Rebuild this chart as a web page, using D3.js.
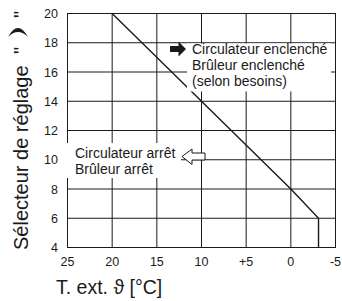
<!DOCTYPE html>
<html>
<head>
<meta charset="utf-8">
<script src="https://cdn.jsdelivr.net/npm/d3@7"></script>
<style>
  html, body { margin: 0; padding: 0; background: #fff; }
  svg { display: block; font-family: "Liberation Sans", Arial, Helvetica, sans-serif; }
</style>
</head>
<body>
<svg id="chart" width="342" height="301"></svg>
<script>
// ---- data ----
const xTicks = [25, 20, 15, 10, 5, 0, -5];
const xTickLabels = ["25", "20", "15", "10", "+5", "0", "-5"];
const yTicks = [4, 6, 8, 10, 12, 14, 16, 18, 20];
const curveTemp = [20, 10, 0, -3.1, -3.1];
const curveSetting = [20, 14, 8, 6, 4];
const xTitle = "T. ext. \u03D1 [°C]";
const yTitle = "Sélecteur de réglage";
const noteOn = ["Circulateur enclenché", "Brûleur enclenché", "(selon besoins)"];
const noteOff = ["Circulateur arrêt", "Brûleur arrêt"];

// ---- layout ----
const svg = d3.select("#chart");
const L = 67.5, R = 335.5, T = 13.5, B = 247.5;
const x = d3.scaleLinear().domain([25, -5]).range([L, R]);
const y = d3.scaleLinear().domain([4, 20]).range([B, T]);
const ink = "#1a1a1a";

// grid
const g = svg.append("g");
g.selectAll("line.v").data(xTicks.slice(1, -1)).join("line")
  .attr("x1", d => x(d)).attr("x2", d => x(d))
  .attr("y1", T).attr("y2", B)
  .attr("stroke", ink).attr("stroke-width", 1);
g.selectAll("line.h").data(yTicks.slice(1, -1)).join("line")
  .attr("x1", L).attr("x2", R)
  .attr("y1", d => y(d)).attr("y2", d => y(d))
  .attr("stroke", ink).attr("stroke-width", 1);
g.append("rect").attr("x", L).attr("y", T).attr("width", R - L).attr("height", B - T)
  .attr("fill", "none").attr("stroke", ink).attr("stroke-width", 1);

// curve
const pts = curveTemp.map((t, i) => [t, curveSetting[i]]);
svg.append("path")
  .datum(pts)
  .attr("d", d3.line().x(d => x(d[0])).y(d => y(d[1])))
  .attr("fill", "none").attr("stroke", ink).attr("stroke-width", 1.4);

// white boxes behind notes
svg.append("rect").attr("x", 187).attr("y", 43.5).attr("width", 144).attr("height", 48).attr("fill", "#fff");
svg.append("rect").attr("x", 66).attr("y", 143).attr("width", 115).attr("height", 35).attr("fill", "#fff");

// filled arrow (right)
svg.append("path")
  .attr("d", "M170,46 L178.5,46 L178.5,41.5 L186,49 L178.5,56.5 L178.5,52 L170,52 Z")
  .attr("fill", ink);
// hollow arrow (left)
svg.append("path")
  .attr("d", "M182,156.5 L192,149 L192,153 L205,153 L205,160 L192,160 L192,164.5 Z")
  .attr("fill", "#fff").attr("stroke", ink).attr("stroke-width", 1);

// notes (one text element per line)
const fs = 14, lh = 15.8;
svg.selectAll("text.on").data(noteOn).join("text")
  .attr("x", 192).attr("y", (d, i) => 54 + i * lh)
  .attr("font-size", fs).attr("fill", ink).text(d => d);
svg.selectAll("text.off").data(noteOff).join("text")
  .attr("x", 75).attr("y", (d, i) => 158 + i * lh)
  .attr("font-size", fs).attr("fill", ink).text(d => d);

// y tick labels
svg.selectAll("text.yt").data(yTicks).join("text")
  .attr("x", 58).attr("y", d => y(d)).attr("dy", "0.36em")
  .attr("text-anchor", "end").attr("font-size", 12.5).attr("fill", ink)
  .text(d => d);

// x tick labels
svg.selectAll("text.xt").data(xTicks).join("text")
  .attr("x", d => x(d)).attr("y", 266)
  .attr("text-anchor", "middle").attr("font-size", 12.5).attr("fill", ink)
  .text((d, i) => xTickLabels[i]);

// x title
svg.append("text").attr("x", 56).attr("y", 294).attr("font-size", 19.5).attr("fill", ink).text(xTitle);

// y title (rotated)
svg.append("text").attr("transform", "translate(28,250) rotate(-90)")
  .attr("font-size", 20).attr("fill", ink).text(yTitle);
svg.append("text").attr("transform", "translate(28,54) rotate(-90)")
  .attr("font-size", 20).attr("fill", ink).text('"');
svg.append("text").attr("transform", "translate(28,18) rotate(-90)")
  .attr("font-size", 20).attr("fill", ink).text('"');
// crescent symbol
svg.append("path")
  .attr("d", "M8,37 Q18,19 28,37 Q18,27 8,37 Z")
  .attr("fill", ink);
</script>
</body>
</html>
